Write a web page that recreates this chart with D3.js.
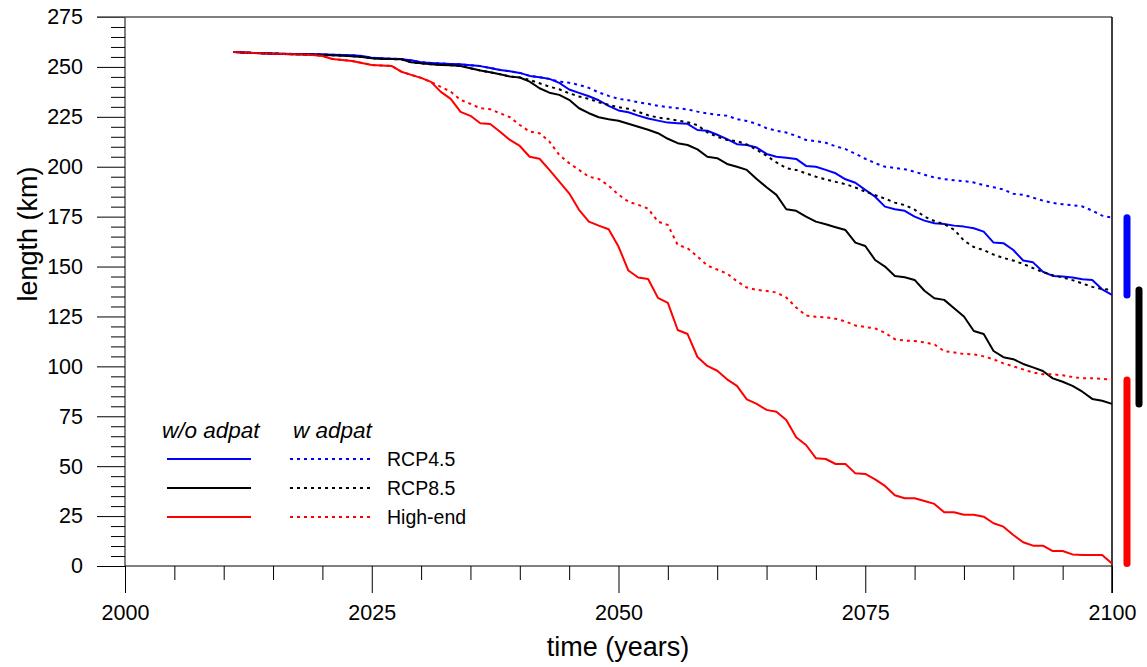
<!DOCTYPE html>
<html><head><meta charset="utf-8">
<script src="https://cdn.jsdelivr.net/npm/d3@7"></script>
<style>body{margin:0;background:#fff}svg{display:block;font-family:"Liberation Sans",Arial,sans-serif}</style>
</head><body><svg id="c" width="1147" height="667"></svg>
<script>
const years = d3.range(2011, 2101);
const highEndWithout = [257.5,257.2,257,256.8,256.6,256.5,256.4,256.2,256,255.5,
254,253.5,253,252,251,250.7,250.5,247.6,246,244.5,
242.5,237.5,234,227.5,225.5,221.8,221.4,217.5,213.4,210.4,
205,204,198.4,192.5,186.7,178.4,172.5,170.5,168.7,160,
148,144.5,143.8,134.3,131.8,118.2,116.2,104.7,100.2,97.8,
93.5,90.2,83.5,81.2,78.2,77.3,73.1,64.5,60.6,54,
53.6,51.1,51.1,46.4,46.1,43.4,40.1,35.4,33.9,33.9,
32.6,31.1,26.9,26.9,25.7,25.7,24.7,21.4,19.7,15.5,
11.9,10.2,10.2,7.5,7.5,5.8,5.5,5.5,5.5,1.3];
const highEndWith = [257.5,257.2,257,256.8,256.6,256.5,256.4,256.2,256,255.5,
254,253.5,253,252,251,250.7,250.5,247.6,246,244.5,
242.5,240,237.6,233.5,231.5,229.3,228.8,226.8,224.8,220.9,
217.6,216.8,212.6,205.9,201.8,198.4,195,193.9,190.5,186,
182.5,180.9,179,172.5,170.8,160.8,159.2,155,150.5,148.5,
146.5,142.6,139.5,138.3,137.8,137,134.5,129.5,125.5,124.8,
124.6,123.8,122.5,120.5,119.7,119,116.8,113.6,112.9,112.7,
112,111,107.6,107,106.2,106,105,103.5,101.5,100,
98.5,96.9,96.1,96,95.5,94.7,94,94,93.8,93.2];
const rcp85Without = [257.5,257.2,257,256.8,256.6,256.5,256.4,256.3,256.2,256,
255.8,255.6,255.4,255,254.3,254,253.9,253.8,252.3,251.8,
251.3,251,250.8,250.5,249.3,248.2,247.3,246.3,245.2,244.7,
242.6,239.3,237.1,236,233.5,229.3,226.8,224.8,223.8,223,
221.5,220,218.5,216.8,214,211.8,210.9,208.7,205,204.3,
201.4,200,198.4,193.9,189.7,185.9,178.7,177.9,175,172.5,
171.2,169.7,168.3,162,160.3,153.3,150,145.3,144.6,143.3,
137.9,134.1,133.3,129.1,125,117.7,116.2,107.7,104.6,103.6,
101.2,99.5,97.7,94,92.3,90.2,87.3,83.7,82.8,81.2];
const rcp85With = [257.5,257.2,257,256.8,256.6,256.5,256.4,256.3,256.2,256,
255.8,255.6,255.4,255,254.3,254,253.9,253.8,252.3,251.8,
251.3,251,250.8,250.5,249.3,248.2,247.3,246.3,245.2,244.7,
243.5,241.8,240.1,238.8,236.8,235.2,234,232.3,231,229.8,
229,227.5,225.8,224.6,224,223.1,222.3,220.8,217.2,215,
213.4,212.8,211.2,208.5,205.5,202.2,199.3,198.4,196.7,195,
193.6,192.4,191.3,189.6,187.5,185.8,184,182,180.8,178.5,
175,172.8,171.2,168.5,163,159.8,158.2,156,154.3,153,
151.3,149.2,147.2,145.7,144.5,143.2,141.5,139.8,138.7,138.3];
const rcp45Without = [257.5,257.2,257,256.8,256.7,256.6,256.5,256.4,256.3,256.3,
256.1,256,255.9,255.5,254.6,254.3,254.1,253.9,253.3,252.3,
252,251.7,251.5,251.3,250.8,250.4,249.5,248.5,247.8,247,
245.5,244.8,244,242,238.7,237,235.3,233.3,230.5,228.2,
227.3,225.6,224.2,223.1,222.1,221.8,221.5,218.4,218,216,
213.8,211.3,210.9,209.6,206.4,205,204.5,203.9,200.4,200,
198.4,196.7,193.7,192,188.4,185,180,178.7,177.9,175,
173,171.7,171.3,170.5,170,169.2,167.5,162,161.7,158.3,
153,152.1,147.4,145.3,145,144.5,143.6,143.3,138.6,135.8];
const rcp45With = [257.5,257.2,257,256.8,256.7,256.6,256.5,256.4,256.3,256.3,
256.1,256,255.9,255.5,254.6,254.3,254.1,253.9,253.3,252.3,
252,251.7,251.5,251.3,250.8,250.4,249.5,248.5,247.8,247,
245.5,244.8,244,242.6,242.1,241,239.5,237.2,235.5,234,
233.3,232.3,231.5,230.5,229.9,229.3,228.7,227.6,226.7,226,
225.6,223.8,222.9,221.5,219.3,218,217.1,215.5,213.4,212.8,
212,210.2,208.8,206.5,204,201.8,200,199.4,198.7,197.5,
196,194.6,193.8,193.2,192.8,192.1,190.8,189.7,188.6,186.4,
186,184.5,183,181.9,181.2,180.7,180.1,178,175.5,174.5];

const scenarioNames = ["RCP4.5","RCP8.5","High-end"];
const scenarioColors = ["#0000ff","#000000","#ff0000"];
const withoutSeries = [rcp45Without, rcp85Without, highEndWithout];
const withSeries = [rcp45With, rcp85With, highEndWith];
const legendHeads = ["w/o adpat","w adpat"];
const xMajor = [2000,2025,2050,2075,2100];
const yMajor = [0,25,50,75,100,125,150,175,200,225,250,275];

const svg = d3.select("#c");
const x = d3.scaleLinear().domain([2000,2100]).range([125,1112]);
const y = d3.scaleLinear().domain([0,275]).range([566,17]);

// axes
const gy = svg.append("g").attr("transform","translate(125,0)");
gy.call(d3.axisLeft(y).tickValues(d3.range(0,276,5).filter(v=>v%25)).tickSize(14).tickFormat("").tickSizeOuter(0));
gy.call(g=>g.select(".domain").remove());
const gy2 = svg.append("g").attr("transform","translate(125,0)");
gy2.call(d3.axisLeft(y).tickValues(yMajor).tickSize(28).tickPadding(14).tickSizeOuter(0));
gy2.select(".domain").remove();
gy2.selectAll("text").attr("font-size",21.5).attr("font-family","Liberation Sans, Arial").attr("fill","#000");
const gx = svg.append("g").attr("transform","translate(0,566)");
gx.call(d3.axisBottom(x).tickValues(d3.range(2000,2101,5).filter(v=>v%25)).tickSize(14).tickFormat("").tickSizeOuter(0));
gx.select(".domain").remove();
const gx2 = svg.append("g").attr("transform","translate(0,566)");
gx2.call(d3.axisBottom(x).tickValues(xMajor).tickSize(27).tickPadding(12).tickFormat(d3.format("d")).tickSizeOuter(0));
gx2.select(".domain").remove();
gx2.selectAll("text").attr("font-size",21.5).attr("font-family","Liberation Sans, Arial").attr("fill","#000");
svg.selectAll(".tick line").attr("stroke","#000").attr("stroke-width",1);

svg.append("line").attr("x1",125).attr("x2",125).attr("y1",y(275)).attr("y2",y(0)).attr("stroke","#000");
svg.append("line").attr("x1",x(2000)).attr("x2",x(2100)).attr("y1",y(0)).attr("y2",y(0)).attr("stroke","#000");
svg.append("line").attr("x1",97).attr("x2",x(2100)).attr("y1",y(275)).attr("y2",y(275)).attr("stroke","#555").attr("stroke-width",1.5);
svg.append("line").attr("x1",x(2100)).attr("x2",x(2100)).attr("y1",y(275)).attr("y2",593).attr("stroke","#000").attr("stroke-width",1.5);

svg.append("text").attr("x",618).attr("y",656).attr("text-anchor","middle").attr("font-size",27).text("time (years)");
svg.append("text").attr("transform","translate(37,234) rotate(-90)").attr("text-anchor","middle").attr("font-size",27).text("length (km)");

// lines
const line = d3.line().x((d,i)=>x(years[i])).y(d=>y(d));
withoutSeries.forEach((s,i)=>{
  svg.append("path").datum(s).attr("d",line).attr("fill","none").attr("stroke",scenarioColors[i]).attr("stroke-width",2).attr("stroke-linejoin","round");
});
withSeries.forEach((s,i)=>{
  svg.append("path").datum(s).attr("d",line).attr("fill","none").attr("stroke",scenarioColors[i]).attr("stroke-width",2).attr("stroke-dasharray","3,4");
});

// range bars at right
const barX = [x(2100)+15, x(2100)+27, x(2100)+15];
scenarioNames.forEach((n,i)=>{
  const a = withoutSeries[i][withoutSeries[i].length-1], b = withSeries[i][withSeries[i].length-1];
  svg.append("line").attr("x1",barX[i]).attr("x2",barX[i]).attr("y1",y(Math.max(a,b))).attr("y2",y(Math.min(a,b)))
    .attr("stroke",scenarioColors[i]).attr("stroke-width",7).attr("stroke-linecap","round");
});

// legend
const lg = svg.append("g");
lg.append("text").attr("x",162).attr("y",438).attr("font-size",22.5).attr("font-style","italic").text(legendHeads[0]);
lg.append("text").attr("x",293).attr("y",438).attr("font-size",22.5).attr("font-style","italic").text(legendHeads[1]);
scenarioNames.forEach((n,i)=>{
  const yy = 459 + i*29;
  lg.append("line").attr("x1",167).attr("x2",251).attr("y1",yy).attr("y2",yy).attr("stroke",scenarioColors[i]).attr("stroke-width",2);
  lg.append("line").attr("x1",290).attr("x2",373).attr("y1",yy).attr("y2",yy).attr("stroke",scenarioColors[i]).attr("stroke-width",2).attr("stroke-dasharray","3,4");
  lg.append("text").attr("x",387).attr("y",yy+7).attr("font-size",19.5).text(n);
});
</script></body></html>
